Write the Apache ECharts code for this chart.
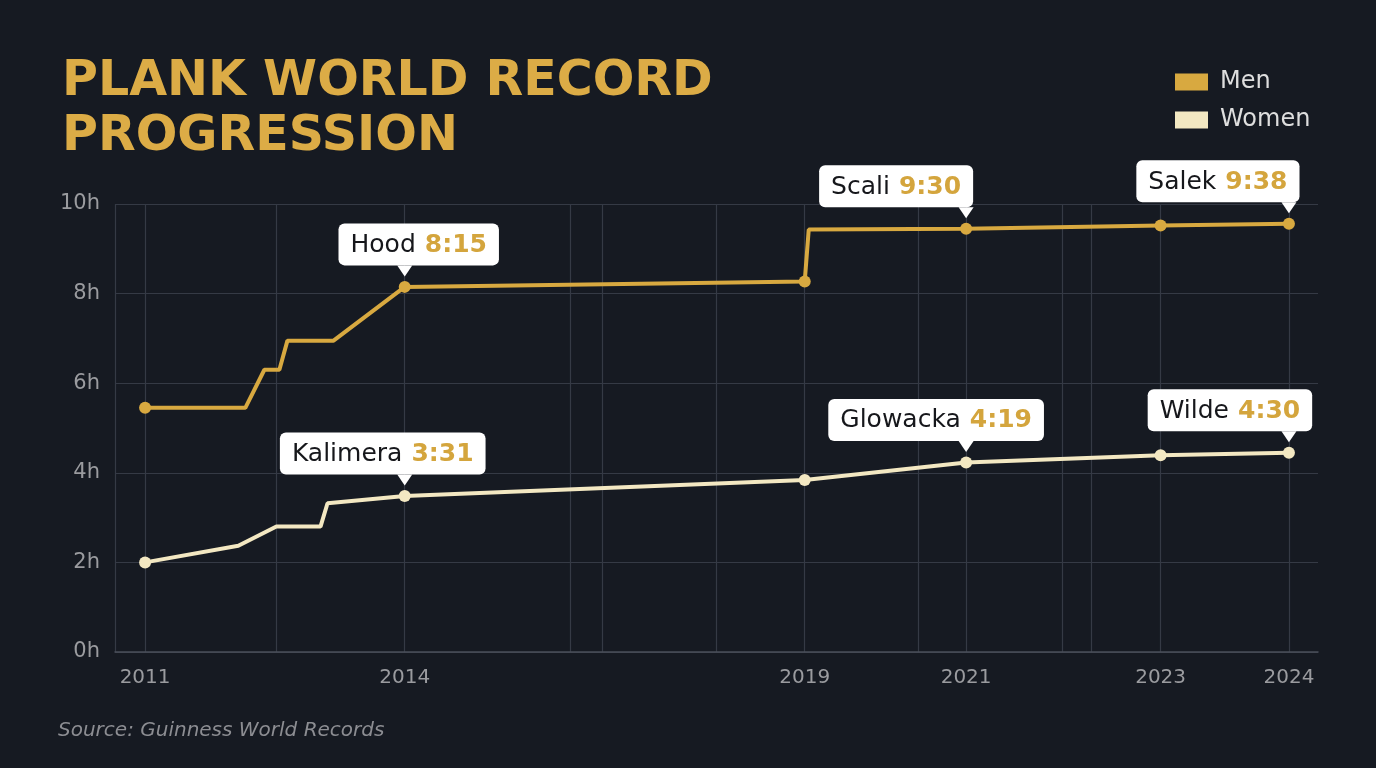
<!DOCTYPE html>
<html>
<head>
    <meta charset="UTF-8">
    <title>Plank world record progression</title>
    <style>
        html, body { margin: 0; padding: 0; background: #161a22; }
        #main { width: 1376px; height: 768px; }
    </style>
</head>
<body>
<div id="main"></div>
<script src="https://cdn.jsdelivr.net/npm/echarts@6/dist/echarts.min.js"></script>
<script>
    // x axis is a "timeline position" scale (the years are not evenly spaced in the picture)
    var yearLabels = ['2011', '2014', '2019', '2021', '2023', '2024'];
    var yearPos = [3.0, 28.9, 68.8, 84.9, 104.3, 117.1];
    var gridPos = [0, 3.0, 16.1, 28.9, 45.4, 48.6, 60.0, 68.8, 80.1, 84.9, 94.5, 97.4, 104.3, 117.1];

    // record in hours
    var menPos = [3.0, 13.0, 14.9, 16.4, 17.2, 21.8, 28.9, 68.8, 69.2, 84.9, 104.3, 117.1];
    var menHours = [5.45, 5.45, 6.3, 6.3, 6.95, 6.95, 8.15, 8.27, 9.43, 9.45, 9.52, 9.56];
    var womenPos = [3.0, 12.3, 16.1, 20.5, 21.2, 28.9, 68.8, 84.9, 104.3, 117.1];
    var womenHours = [2.0, 2.37, 2.8, 2.8, 3.32, 3.48, 3.84, 4.23, 4.39, 4.45];

    // callouts
    var menCalloutIdx = [6, 9, 11];
    var menCalloutName = ['Hood', 'Scali', 'Salek'];
    var menCalloutTime = ['8:15', '9:30', '9:38'];
    var womenCalloutIdx = [5, 7, 9];
    var womenCalloutName = ['Kalimera', 'Glowacka', 'Wilde'];
    var womenCalloutTime = ['3:31', '4:19', '4:30'];

    var GOLD = '#d8a940';
    var CREAM = '#f3e8c2';
    var FONT = "'DejaVu Sans', sans-serif";

    // horizontal shift of each callout box (style only)
    var menShift = [14, -70, -71];
    var womenShift = [-22, -30, -59];

    function lineData(pos, hours) {
        var out = [];
        for (var i = 0; i < pos.length; i++) {
            var marked = yearPos.indexOf(pos[i]) >= 0;
            out.push({ value: [pos[i], hours[i]], symbolSize: marked ? 12 : 0 });
        }
        return out;
    }

    function calloutData(pos, hours, idx, names, times, shift) {
        var out = [];
        for (var i = 0; i < idx.length; i++) {
            out.push({
                value: [pos[idx[i]], hours[idx[i]]],
                name: names[i],
                time: times[i],
                label: { offset: [shift[i], 0] }
            });
        }
        return out;
    }

    var calloutLabel = {
        show: true,
        position: 'top',
        distance: 0,
        backgroundColor: '#ffffff',
        borderRadius: 6,
        padding: [6, 12, 4, 12],
        formatter: function (p) {
            return '{n|' + p.data.name + '}{t|' + p.data.time + '}';
        },
        rich: {
            n: { fontFamily: FONT, fontSize: 25, color: '#16171b', lineHeight: 32 },
            t: { fontFamily: FONT, fontSize: 25, fontWeight: 'bold', color: '#d4a53d', lineHeight: 32, padding: [0, 0, 0, 9] }
        }
    };

    var myChart = echarts.init(document.getElementById('main'));

    var option = {
        backgroundColor: '#161a22',
        animation: false,
        title: {
            text: 'PLANK WORLD RECORD\nPROGRESSION',
            left: 57,
            top: 50,
            textStyle: {
                fontFamily: FONT,
                fontSize: 49,
                fontWeight: 'bold',
                color: '#dcac46',
                lineHeight: 55
            }
        },
        legend: {
            orient: 'vertical',
            left: 1175,
            top: 70,
            padding: 0,
            itemWidth: 33,
            itemHeight: 17,
            itemGap: 14,
            icon: 'rect',
            textStyle: {
                fontFamily: FONT,
                fontSize: 24,
                color: '#dedede',
                lineHeight: 20,
                padding: [0, 0, 0, 7]
            },
            data: ['Men', 'Women']
        },
        grid: { left: 115, right: 58, top: 204, bottom: 116 },
        xAxis: {
            type: 'value',
            min: 0,
            max: 120,
            axisLine: { show: true, lineStyle: { color: '#4a4f5a', width: 1.5 } },
            axisTick: { show: false, customValues: gridPos },
            splitLine: { show: true, lineStyle: { color: '#353a45', width: 1.2 } },
            axisLabel: {
                customValues: yearPos,
                margin: 16,
                fontFamily: FONT,
                fontSize: 20,
                color: '#9a9b9f',
                formatter: function (v) {
                    var i = yearPos.indexOf(v);
                    return i >= 0 ? yearLabels[i] : '';
                }
            }
        },
        yAxis: {
            type: 'value',
            min: 0,
            max: 10,
            interval: 2,
            axisLine: { show: false },
            axisTick: { show: false },
            splitLine: { lineStyle: { color: '#353a45', width: 1.2 } },
            axisLabel: {
                margin: 15,
                fontFamily: FONT,
                fontSize: 21,
                color: '#9a9b9f',
                formatter: '{value}h'
            }
        },
        graphic: [{
            type: 'text',
            left: 58,
            top: 721,
            style: {
                text: 'Source: Guinness World Records',
                fontFamily: FONT,
                fontSize: 20,
                fontStyle: 'italic',
                fill: '#8c8d92'
            }
        }],
        series: [
            {
                name: 'Men',
                type: 'line',
                data: lineData(menPos, menHours),
                symbol: 'circle',
                color: GOLD,
                lineStyle: { width: 4, color: GOLD },
                itemStyle: { color: GOLD },
                z: 3
            },
            {
                name: 'Women',
                type: 'line',
                data: lineData(womenPos, womenHours),
                symbol: 'circle',
                color: CREAM,
                lineStyle: { width: 4, color: CREAM },
                itemStyle: { color: CREAM },
                z: 3
            },
            {
                name: 'menCallouts',
                type: 'scatter',
                data: calloutData(menPos, menHours, menCalloutIdx, menCalloutName, menCalloutTime, menShift),
                symbol: 'path://M0,0 L14,0 L7,10 Z',
                symbolSize: [15, 11],
                symbolOffset: [0, -16],
                itemStyle: { color: '#ffffff', opacity: 1 },
                label: calloutLabel,
                silent: true,
                z: 5
            },
            {
                name: 'womenCallouts',
                type: 'scatter',
                data: calloutData(womenPos, womenHours, womenCalloutIdx, womenCalloutName, womenCalloutTime, womenShift),
                symbol: 'path://M0,0 L14,0 L7,10 Z',
                symbolSize: [15, 11],
                symbolOffset: [0, -16],
                itemStyle: { color: '#ffffff', opacity: 1 },
                label: calloutLabel,
                silent: true,
                z: 5
            }
        ]
    };

    myChart.setOption(option);
</script>
</body>
</html>
